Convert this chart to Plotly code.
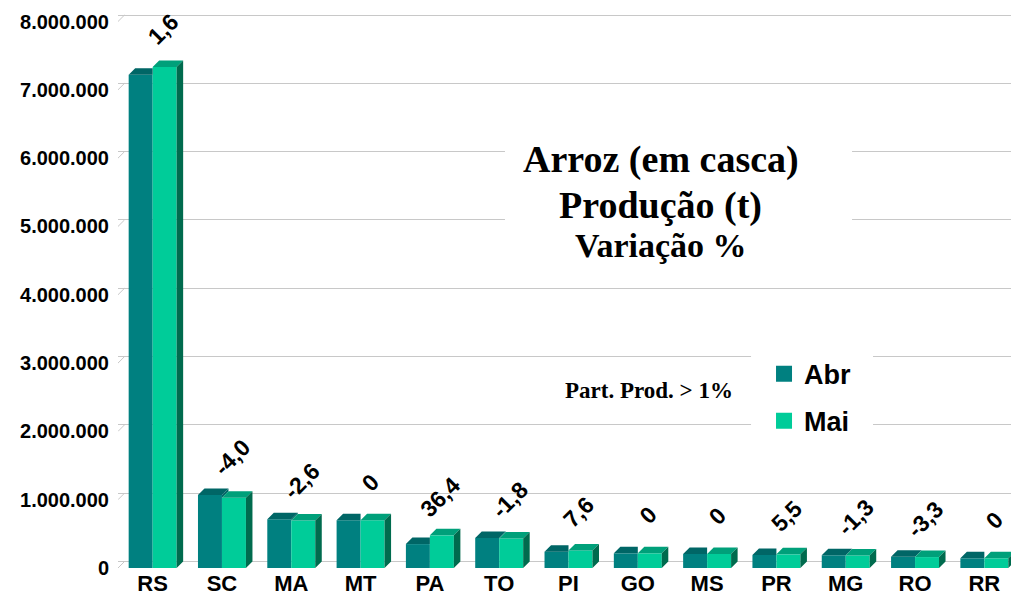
import plotly.graph_objects as go

# dados (t)
estados = ["RS", "SC", "MA", "MT", "PA", "TO", "PI", "GO", "MS", "PR", "MG", "RO", "RR"]
abr = [7220000, 1070000, 715000, 700000, 350000, 440000, 239000, 215000, 205000, 190000, 186000, 165000, 142000]
mai = [7335000, 1027000, 697000, 700000, 478000, 432000, 257000, 215000, 205000, 200000, 183000, 160000, 142000]
variacao = ["1,6", "-4,0", "-2,6", "0", "36,4", "-1,8", "7,6", "0", "0", "5,5", "-1,3", "-3,3", "0"]
yticks = [0, 1000000, 2000000, 3000000, 4000000, 5000000, 6000000, 7000000, 8000000]

cor_abr, cor_abr_topo = "#008080", "#006666"
cor_mai, cor_mai_topo, cor_mai_lado = "#00CC99", "#00A07A", "#006B4E"

W = 0.346      # largura de cada barra
DX = 0.094     # profundidade 3D (x)
DY = 95000     # profundidade 3D (y)
YMAX = 8110000

SANS = "Liberation Sans, Arial"
SERIF = "Liberation Serif, Times New Roman"

idx = list(range(len(estados)))
x_abr = [i - W / 2 for i in idx]
x_mai = [i + W / 2 for i in idx]


def poly(pts_list):
    xs, ys = [], []
    for pts in pts_list:
        for px_, py_ in pts + [pts[0]]:
            xs.append(px_)
            ys.append(py_)
        xs.append(None)
        ys.append(None)
    return xs, ys


# faces superiores / laterais
topo_abr, lado_abr, topo_mai, lado_mai = [], [], [], []
for i in idx:
    va, vm = abr[i], mai[i]
    xl, xr = i - W, i
    if va > vm:
        topo_abr.append([(xl, va), (xr, va), (xr + DX, va + DY), (xl + DX, va + DY)])
        lado_abr.append([(xr, vm), (xr, va), (xr + DX, va + DY), (xr + DX, vm + DY)])
    else:
        topo_abr.append([(xl, va), (xr, va), (xr, va + DY), (xl + DX, va + DY)])
    xl, xr = i, i + W
    topo_mai.append([(xl, vm), (xr, vm), (xr + DX, vm + DY), (xl + DX, vm + DY)])
    lado_mai.append([(xr, 0), (xr, vm), (xr + DX, vm + DY), (xr + DX, DY)])

fig = go.Figure()

# pequenas diagonais da parede lateral (eixo y2 = plano do fundo)
sx, sy = [], []
for v in yticks:
    sx += [-0.5, -0.5 + DX, None]
    sy += [v - DY, v, None]
fig.add_trace(go.Scatter(x=sx, y=sy, yaxis="y2", mode="lines",
                         line=dict(color="#C8C8C8", width=1), showlegend=False, hoverinfo="skip"))

fig.add_trace(go.Bar(x=x_abr, y=abr, width=W, marker=dict(color=cor_abr, line_width=0),
                     name="Abr", showlegend=False))
fig.add_trace(go.Bar(x=x_mai, y=mai, width=W, marker=dict(color=cor_mai, line_width=0),
                     name="Mai", showlegend=False))

for pts, cor in [(topo_abr, cor_abr_topo), (lado_abr, cor_abr_topo),
                 (topo_mai, cor_mai_topo), (lado_mai, cor_mai_lado)]:
    xs, ys = poly(pts)
    fig.add_trace(go.Scatter(x=xs, y=ys, mode="lines", fill="toself", fillcolor=cor,
                             line=dict(width=0, color=cor), showlegend=False, hoverinfo="skip"))

# legenda
for nome, cor in [("Abr", cor_abr), ("Mai", cor_mai)]:
    fig.add_trace(go.Scatter(x=[None], y=[None], mode="markers", name=nome, legendgroup=nome,
                             marker=dict(symbol="square", size=20, color=cor)))

# rotulos de variacao
for i in idx:
    fig.add_annotation(x=i + 0.15, y=max(abr[i], mai[i]), text="<b>%s</b>" % variacao[i],
                       showarrow=False, textangle=-45, yshift=38,
                       xanchor="center", yanchor="middle",
                       font=dict(family=SANS, size=23, color="black"))

# caixas brancas por tras do titulo e da legenda
fig.add_shape(type="rect", xref="paper", yref="paper", x0=0.4295, x1=0.8147, y0=0.5379, y1=0.8448,
              fillcolor="white", line_width=0, layer="above")
fig.add_shape(type="rect", xref="paper", yref="paper", x0=0.7026, x1=0.838, y0=0.231, y1=0.415,
              fillcolor="white", line_width=0, layer="above")

for texto, yy, tam in [("Arroz (em casca)", 0.7365, 38), ("Produção (t)", 0.6552, 38),
                       ("Variação %", 0.5830, 34)]:
    fig.add_annotation(xref="paper", yref="paper", x=0.6025, y=yy, text="<b>%s</b>" % texto,
                       showarrow=False, xanchor="center", yanchor="middle",
                       font=dict(family=SERIF, size=tam, color="black"))

fig.add_annotation(xref="paper", yref="paper", x=0.589, y=0.3195, text="<b>Part. Prod. > 1%</b>",
                   showarrow=False, xanchor="center", yanchor="middle",
                   font=dict(family=SERIF, size=23, color="black"))

fig.update_layout(
    width=1011, height=588,
    margin=dict(l=110, r=0, t=6, b=28),
    paper_bgcolor="white", plot_bgcolor="white",
    separators=",.",
    barmode="overlay",
    xaxis=dict(range=[-0.5, 12.5], tickvals=idx, ticktext=estados, showgrid=False,
               zeroline=False, showline=False, ticks="", ticklen=0,
               tickfont=dict(family=SANS, size=22, color="black", weight="bold")),
    yaxis=dict(range=[0, YMAX], tickvals=yticks, tickformat=",d", showgrid=False,
               zeroline=False, showline=False, ticks="", ticklabelstandoff=8,
               tickfont=dict(family=SANS, size=20, color="black", weight="bold")),
    yaxis2=dict(overlaying="y", anchor="x", range=[-DY, YMAX - DY], tickvals=yticks,
                showgrid=True, gridcolor="#C8C8C8", gridwidth=1, zeroline=False,
                showticklabels=False, ticks=""),
    legend=dict(x=0.717, y=0.394, xanchor="left", yanchor="top", bgcolor="rgba(0,0,0,0)",
                tracegroupgap=9,
                font=dict(family=SANS, size=27, color="black", weight="bold")),
)

fig.write_html("out.html")
